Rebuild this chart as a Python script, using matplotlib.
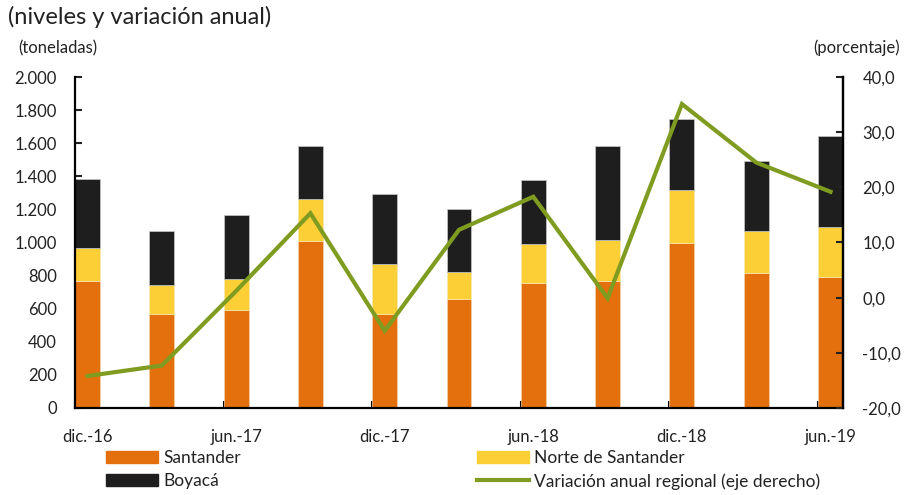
import matplotlib
matplotlib.use("Agg")
import matplotlib.pyplot as plt
from matplotlib.ticker import FuncFormatter
from matplotlib.patches import Patch
from matplotlib.lines import Line2D
import numpy as np

plt.rcParams['font.family'] = ['Lato', 'DejaVu Sans']

periods = ["dic.-16", "mar.-17", "jun.-17", "sep.-17", "dic.-17", "mar.-18",
           "jun.-18", "sep.-18", "dic.-18", "mar.-19", "jun.-19"]
santander = [767, 568, 592, 1011, 568, 659, 755, 767, 999, 814, 790]
norte = [200, 175, 185, 250, 304, 165, 236, 246, 318, 257, 306]
boyaca = [418, 328, 387, 324, 419, 376, 387, 572, 431, 421, 547]
variacion = [-14.2, -12.3, 1.2, 15.3, -6.0, 12.3, 18.3, -0.1, 35.1, 24.5, 19.2]

c_or = "#E3700D"
c_ye = "#FDCF36"
c_bk = "#1E1E1E"
c_gr = "#7F9C20"

W, H = 908, 495
fig = plt.figure(figsize=(W/100, H/100), dpi=100)
ax = fig.add_axes([75/W, 1-408/H, (843-75)/W, (408-77)/H])

x = np.arange(len(periods))
w = 0.336
s = np.array(santander); n = np.array(norte); b = np.array(boyaca)
ax.bar(x, s, w, color=c_or, edgecolor="#f0d0b0", linewidth=0.5, zorder=2)
ax.bar(x, n, w, bottom=s, color=c_ye, edgecolor="#f5e6b0", linewidth=0.5, zorder=2)
ax.bar(x, b, w, bottom=s+n, color=c_bk, edgecolor="#c8c8c8", linewidth=0.5, zorder=2)

ax.set_xlim(-w/2, len(periods)-1+w/2)
ax.set_ylim(0, 2000)
ax.set_yticks(np.arange(0, 2001, 200))
ax.yaxis.set_major_formatter(FuncFormatter(lambda v, p: f"{int(v):,}".replace(",", ".")))

ax.set_xticks(x[::2])
ax.set_xticklabels([periods[i] for i in x[::2]], fontsize=12, color="#222222")
ax.tick_params(axis='x', length=0, pad=15)
ax.set_xticks(x[::2] - w/2, minor=True)
ax.tick_params(axis='x', which='minor', direction='in', length=5, width=1.5)
ax.tick_params(axis='y', direction='in', length=5, width=1.5, labelsize=12, pad=13, colors="#222222")
ax.spines['top'].set_visible(False)
for sp in ['left', 'bottom', 'right']:
    ax.spines[sp].set_linewidth(1.6)
    ax.spines[sp].set_color("#000000")

ax2 = ax.twinx()
ax2.plot(x, variacion, color=c_gr, linewidth=3, zorder=5, solid_joinstyle='miter')
ax2.set_ylim(-20, 40)
ax2.set_yticks(np.arange(-20, 41, 10))
ax2.yaxis.set_major_formatter(FuncFormatter(lambda v, p: f"{v:.1f}".replace(".", ",")))
ax2.tick_params(axis='y', direction='in', length=5, width=1.5, labelsize=12, pad=14, colors="#222222")
ax2.spines['top'].set_visible(False)
ax2.spines['right'].set_linewidth(1.6)
ax2.spines['left'].set_visible(False)
ax2.spines['bottom'].set_visible(False)
ax.set_zorder(1); ax2.set_zorder(2); ax2.patch.set_visible(False)

fig.text(8/W, 1-17/H, "(niveles y variación anual)", fontsize=17, va='center', ha='left', color="#222222")
fig.text(18/W, 1-48/H, "(toneladas)", fontsize=12, va='center', ha='left', color="#222222")
fig.text(900/W, 1-48/H, "(porcentaje)", fontsize=12, va='center', ha='right', color="#222222")

handles = [Patch(color=c_or), Patch(color=c_bk), Patch(color=c_ye),
           Line2D([], [], color=c_gr, linewidth=3)]
labels = ["Santander", "Boyacá", "Norte de Santander", "Variación anual regional (eje derecho)"]
leg = fig.legend(handles, labels, ncol=2, loc='upper left', bbox_to_anchor=(106/W, 1-450/H),
                 frameon=False, fontsize=12.5, handlelength=3.0, handleheight=0.7,
                 handletextpad=0.3, columnspacing=13.6, labelspacing=0.4, borderaxespad=0,
                 borderpad=0)
for t in leg.get_texts():
    t.set_color("#222222")

fig.savefig("out.png", dpi=100)
